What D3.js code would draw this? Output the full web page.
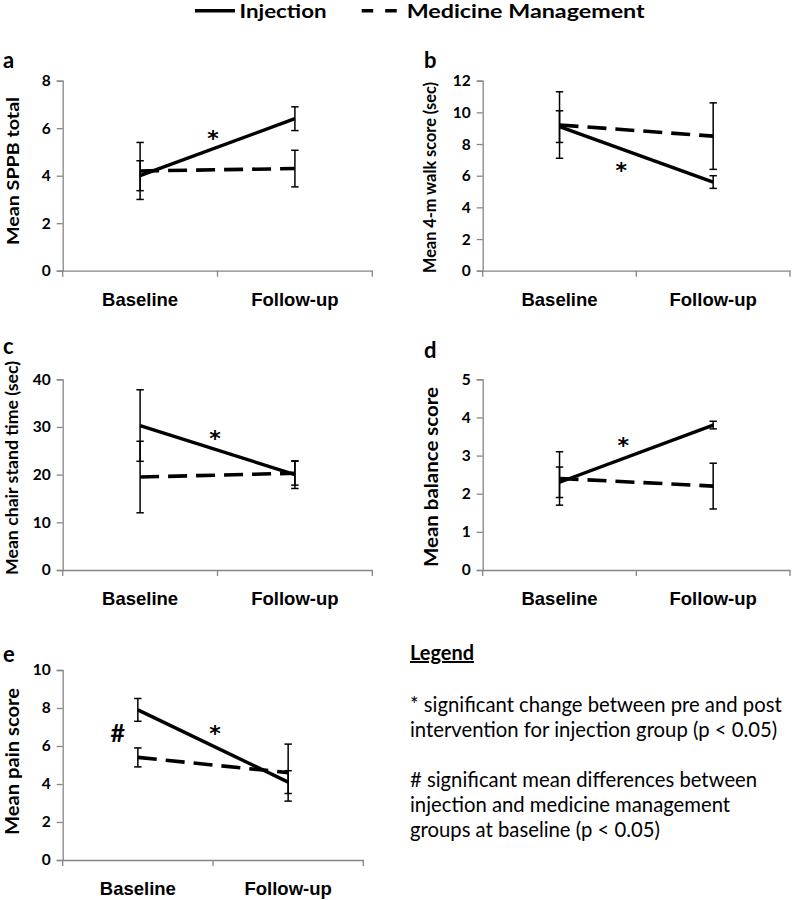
<!DOCTYPE html>
<html>
<head>
<meta charset="utf-8">
<script src="https://cdn.jsdelivr.net/npm/d3@7"></script>
<style>
  html, body { margin: 0; padding: 0; background: #fff; }
  svg { display: block; font-family: Lato, "Open Sans", sans-serif; }
</style>
</head>
<body>
<svg id="chart" width="793" height="900"></svg>
<script>
// ---------------- DATA ----------------
const categories = ["Baseline", "Follow-up"];
const seriesNames = ["Injection", "Medicine Management"];
const panelLetters = ["a", "b", "c", "d", "e"];
const yTitles = ["Mean SPPB total", "Mean 4-m walk score (sec)", "Mean chair stand time (sec)", "Mean balance score", "Mean pain score"];
const yMaxes = [8, 12, 40, 5, 10];
const yTickValues = [
  [0, 2, 4, 6, 8],
  [0, 2, 4, 6, 8, 10, 12],
  [0, 10, 20, 30, 40],
  [0, 1, 2, 3, 4, 5],
  [0, 2, 4, 6, 8, 10]
];
const injectionMeans = [[4.0, 6.4], [9.1, 5.6], [30.3, 20.0], [2.3, 3.8], [7.9, 4.1]];
const injectionErrors = [[0.63, 0.5], [1.0, 0.4], [7.5, 2.9], [0.4, 0.1], [0.6, 0.6]];
const medicineMeans = [[4.2, 4.3], [9.2, 8.5], [19.5, 20.3], [2.4, 2.2], [5.4, 4.6]];
const medicineErrors = [[1.2, 0.77], [2.1, 2.1], [7.5, 2.5], [0.7, 0.6], [0.5, 1.5]];
const baselineDiff = [false, false, false, false, true];
const legendTitle = "Legend";
const legendLines = [
  "* significant change between pre and post",
  "intervention for injection group (p < 0.05)",
  "",
  "# significant mean differences between",
  "injection and medicine management",
  "groups at baseline (p < 0.05)"
];

// ---------------- LAYOUT ----------------
const layout = [
  { x0: 62.7, x1: 372.3, yTop: 80.7, yBot: 270.7, letterX: 3, letterY: 68, titleX: 18.5, titleCy: 171, titleW: 148, titleFs: 17.5, starDx: -4.5, starDy: -14.5 },
  { x0: 482.7, x1: 790, yTop: 80.7, yBot: 270.7, letterX: 424, letterY: 68, titleX: 436, titleCy: 177.5, titleW: 191, titleFs: 16.5, starDx: -15, starDy: 10.7 },
  { x0: 62.7, x1: 372.3, yTop: 379.3, yBot: 570, letterX: 3, letterY: 354, titleX: 18, titleCy: 468, titleW: 214, titleFs: 17, starDx: -2.5, starDy: -17.3 },
  { x0: 482.7, x1: 790, yTop: 379.3, yBot: 570, letterX: 424, letterY: 358, titleX: 437.5, titleCy: 477, titleW: 180, titleFs: 18.5, starDx: -13, starDy: -13.3 },
  { x0: 62.7, x1: 363.3, yTop: 670, yBot: 860, letterX: 3, letterY: 662, titleX: 18.5, titleCy: 761.5, titleW: 147, titleFs: 18, starDx: 2, starDy: -17.7 }
];
const axisColor = "#868686";

// scale a text's font size so that its rendered width equals target
function fitWidth(sel, target) {
  const node = sel.node();
  const fs = parseFloat(sel.attr("font-size"));
  const w = node.getComputedTextLength();
  if (w > 0) sel.attr("font-size", (fs * target / w).toFixed(2));
  return sel;
}

const svg = d3.select("#chart");

panelLetters.forEach((letter, i) => {
  const L = layout[i];
  const g = svg.append("g");
  const x = d3.scaleBand().domain(categories).range([L.x0, L.x1]);
  const cx = c => x(c) + x.bandwidth() / 2;
  const y = d3.scaleLinear().domain([0, yMaxes[i]]).range([L.yBot, L.yTop]);

  // y axis
  const yAxis = g.append("g").attr("transform", `translate(${L.x0},0)`)
    .call(d3.axisLeft(y).tickValues(yTickValues[i]).tickFormat(d3.format("d")).tickSize(6).tickPadding(6));
  yAxis.select(".domain").attr("stroke", axisColor).attr("stroke-width", 1.3);
  yAxis.selectAll(".tick line").attr("stroke", axisColor).attr("stroke-width", 1.3);
  yAxis.selectAll(".tick text").attr("fill", "#000").attr("font-size", 15.5).attr("font-weight", "bold")
    .attr("font-family", "Lato, sans-serif");

  // x axis
  const xAxis = g.append("g").attr("transform", `translate(0,${L.yBot})`)
    .call(d3.axisBottom(x).tickSize(0).tickFormat(""));
  xAxis.select(".domain").attr("stroke", axisColor).attr("stroke-width", 1.3);
  xAxis.selectAll(".tick").remove();
  const bounds = [L.x0, ...categories.slice(1).map(c => x(c)), L.x1];
  xAxis.selectAll("line.bd").data(bounds).enter().append("line")
    .attr("x1", d => d).attr("x2", d => d).attr("y1", 0).attr("y2", 6)
    .attr("stroke", axisColor).attr("stroke-width", 1.3);
  xAxis.selectAll("text.cat").data(categories).enter().append("text")
    .attr("x", d => cx(d)).attr("y", 35)
    .attr("text-anchor", "middle").attr("font-size", 18.5).attr("font-weight", "bold").attr("fill", "#000")
    .text(d => d);

  // panel letter
  g.append("text").attr("x", L.letterX).attr("y", L.letterY)
    .attr("font-size", 22).attr("font-weight", "bold").attr("fill", "#000").text(letter);

  // y title
  g.append("text")
    .attr("transform", `translate(${L.titleX},${L.titleCy}) rotate(-90)`)
    .attr("text-anchor", "middle")
    .attr("font-size", L.titleFs).attr("font-weight", "bold").attr("fill", "#000")
    .attr("textLength", L.titleW).attr("lengthAdjust", "spacingAndGlyphs")
    .text(yTitles[i]);

  // series
  const line = d3.line().x(d => cx(d.c)).y(d => y(d.v));
  const mm = categories.map((c, k) => ({ c, v: medicineMeans[i][k], e: medicineErrors[i][k] }));
  const inj = categories.map((c, k) => ({ c, v: injectionMeans[i][k], e: injectionErrors[i][k] }));

  g.append("path").datum(mm).attr("d", line).attr("fill", "none").attr("stroke", "#000")
    .attr("stroke-width", 3.6).attr("stroke-dasharray", "19,9");
  g.append("path").datum(inj).attr("d", line).attr("fill", "none").attr("stroke", "#000")
    .attr("stroke-width", 3.4);

  // error bars
  [mm, inj].forEach(series => {
    const eb = g.selectAll(null).data(series).enter().append("g");
    eb.append("line").attr("x1", d => cx(d.c)).attr("x2", d => cx(d.c))
      .attr("y1", d => y(d.v - d.e)).attr("y2", d => y(d.v + d.e))
      .attr("stroke", "#000").attr("stroke-width", 1.5);
    [-1, 1].forEach(s => {
      eb.append("line").attr("x1", d => cx(d.c) - 3.7).attr("x2", d => cx(d.c) + 3.7)
        .attr("y1", d => y(d.v + s * d.e)).attr("y2", d => y(d.v + s * d.e))
        .attr("stroke", "#000").attr("stroke-width", 1.5);
    });
  });

  // significance star near the middle of the injection line
  const midX = (cx(categories[0]) + cx(categories[1])) / 2;
  const midY = (y(injectionMeans[i][0]) + y(injectionMeans[i][1])) / 2;
  g.append("text").attr("x", midX + L.starDx).attr("y", midY + L.starDy + 12.8)
    .attr("text-anchor", "middle").attr("font-size", 22).attr("font-weight", "bold")
    .attr("font-family", "'DejaVu Sans', sans-serif").attr("fill", "#000")
    .text("*");

  if (baselineDiff[i]) {
    const by = (y(injectionMeans[i][0]) + y(medicineMeans[i][0])) / 2;
    g.append("text").attr("x", cx(categories[0]) - 20).attr("y", by + 8.5)
      .attr("text-anchor", "middle").attr("font-size", 25).attr("font-weight", "bold").attr("fill", "#000")
      .text("#");
  }
});

// top legend
const topLeg = svg.append("g");
topLeg.append("line").attr("x1", 195).attr("x2", 235).attr("y1", 10.7).attr("y2", 10.7)
  .attr("stroke", "#000").attr("stroke-width", 3.5);
topLeg.append("text").attr("x", 239.5).attr("y", 17.5).attr("font-size", 19.5).attr("font-weight", "bold")
  .attr("fill", "#000").attr("textLength", 87).attr("lengthAdjust", "spacingAndGlyphs").text(seriesNames[0]);
topLeg.append("line").attr("x1", 361.7).attr("x2", 397).attr("y1", 10.7).attr("y2", 10.7)
  .attr("stroke", "#000").attr("stroke-width", 3.5).attr("stroke-dasharray", "11.5,12");
topLeg.append("text").attr("x", 406.7).attr("y", 17.5).attr("font-size", 19.5).attr("font-weight", "bold")
  .attr("fill", "#000").attr("textLength", 238).attr("lengthAdjust", "spacingAndGlyphs").text(seriesNames[1]);

// bottom-right legend
const leg = svg.append("g");
const lt = leg.append("text").attr("x", 410).attr("y", 660).attr("font-size", 18).attr("font-weight", "bold")
  .attr("fill", "#000").attr("text-decoration", "underline").text(legendTitle);
fitWidth(lt, 64);
let legendSize = null;
legendLines.forEach((t, k) => {
  if (!t) return;
  const s = leg.append("text").attr("x", 410).attr("y", 711.7 + k * 25).attr("font-size", 20)
    .attr("fill", "#000").text(t);
  if (legendSize === null) { fitWidth(s, 372); legendSize = s.attr("font-size"); }
  else s.attr("font-size", legendSize);
});
</script>
</body>
</html>
